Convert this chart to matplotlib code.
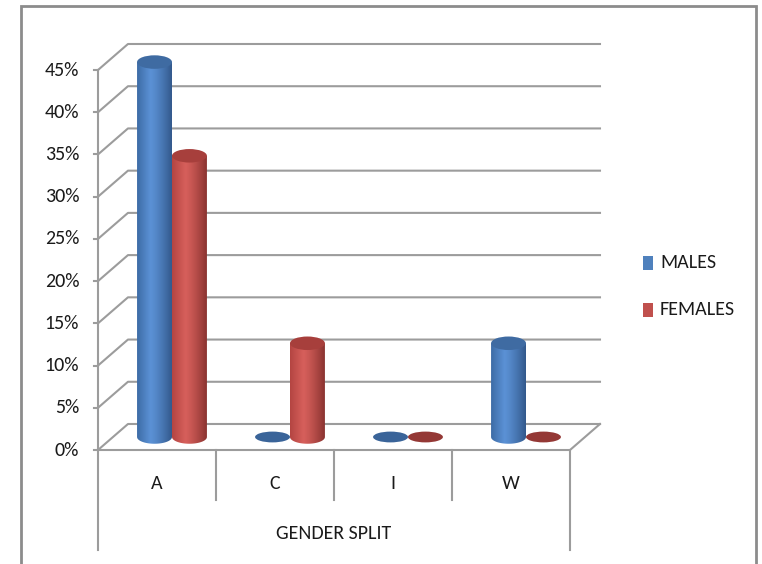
import numpy as np
import matplotlib
matplotlib.use("Agg")
import matplotlib.pyplot as plt
from matplotlib.patches import Ellipse, PathPatch, Rectangle
from matplotlib.path import Path
from matplotlib.colors import to_rgb

# ---- data ----
categories = ["A", "C", "I", "W"]
males = [44.4, 0.0, 0.0, 11.1]
females = [33.3, 11.1, 0.0, 0.0]
y_ticks = [0, 5, 10, 15, 20, 25, 30, 35, 40, 45]
y_tick_labels = [f"{v}%" for v in y_ticks]
series_names = ["MALES", "FEMALES"]
axis_title = "GENDER SPLIT"

FONT = ["Carlito", "DejaVu Sans"]
FS = 14.4
TXT = "#1a1a1a"

# ---- figure: one axes spanning the canvas, x in category units, y in percent ----
fig = plt.figure(figsize=(7.62, 5.64), dpi=100)
ax = fig.add_axes([0, 0, 1, 1])
ax.set_xlim(-0.8305, 5.627)
ax.set_ylim(-13.50, 53.29)
ax.axis("off")

n = len(categories)
DX, DY = 0.254, 3.08          # oblique offset of the back wall
MX, MY = DX / 2, DY / 2        # mid depth where the cylinders stand
W = 0.296                      # cylinder diameter
EH = 1.6                       # ellipse height (percent units)
GRID = "#9c9c9c"
FRAME = "#8c8c8c"

# outer frame
ax.plot([21 / 762, 21 / 762, 755.5 / 762, 755.5 / 762], [0, 1 - 6 / 564, 1 - 6 / 564, 0],
        transform=ax.transAxes, color=FRAME, lw=2.0, solid_joinstyle="miter", zorder=1)

# back-wall gridlines and side-wall diagonals
for v, lab in zip(y_ticks, y_tick_labels):
    ax.plot([0, DX, n + DX], [v, v + DY, v + DY], color=GRID, lw=1.5, zorder=2)
    ax.plot([-0.034, 0], [v, v], color=GRID, lw=1.5, zorder=2)
    ax.text(-0.16, v, lab, ha="right", va="center", fontsize=FS, family=FONT, color=TXT)

# front axis and floor
ax.plot([0, 0], [y_ticks[-1], -11.84], color=GRID, lw=1.5, zorder=2)
ax.plot([0, n, n + DX], [0, 0, DY], color=GRID, lw=1.5, zorder=2)
ax.plot([n, n], [0, -11.84], color=GRID, lw=1.5, zorder=2)
for i in range(1, n):
    ax.plot([i, i], [0, -5.92], color=GRID, lw=1.5, zorder=2)

for i, c in enumerate(categories):
    ax.text(i + 0.5, -3.91, c, ha="center", va="center", fontsize=FS, family=FONT, color=TXT)
ax.text(n / 2, -9.83, axis_title, ha="center", va="center", fontsize=FS, family=FONT, color=TXT)

# cylinder shading: (left edge, highlight, right edge), top cap, flat cap
palette = {
    "MALES": dict(stops=["#3d6ca6", "#5b91d5", "#33598c"], top="#3f6ba2", flat="#3a6499", legend="#4f81bd"),
    "FEMALES": dict(stops=["#b44542", "#d65f5b", "#8a3330"], top="#a73f3c", flat="#943835", legend="#c0504d"),
}


def gradient_image(stops):
    c0, c1, c2 = (np.array(to_rgb(s)) for s in stops)
    t = np.linspace(0, 1, 64)
    img = np.zeros((1, 64, 3))
    for k, tt in enumerate(t):
        if tt < 0.38:
            f = tt / 0.38
            img[0, k] = c0 * (1 - f) + c1 * f
        else:
            f = (tt - 0.38) / 0.62
            img[0, k] = c1 * (1 - f ** 1.3) + c2 * f ** 1.3
    return img


def cylinder(cx, h, style, z):
    base = MY
    x0, x1 = cx - W / 2, cx + W / 2
    if h <= 0:
        ax.add_patch(Ellipse((cx, base), W, EH * 0.8, facecolor=style["flat"], edgecolor="none", zorder=z))
        return
    top = base + h
    th = np.linspace(np.pi, 2 * np.pi, 40)
    arc = np.column_stack([cx + W / 2 * np.cos(th), base + EH / 2 * np.sin(th)])
    verts = np.vstack([[x0, top], arc, [x1, top], [x0, top]])
    codes = [Path.MOVETO] + [Path.LINETO] * (len(verts) - 2) + [Path.CLOSEPOLY]
    body = PathPatch(Path(verts, codes), facecolor="none", edgecolor="none", zorder=z)
    ax.add_patch(body)
    im = ax.imshow(gradient_image(style["stops"]), extent=[x0, x1, base - EH / 2, top],
                   aspect="auto", interpolation="bilinear", zorder=z)
    im.set_clip_path(body)
    ax.add_patch(Ellipse((cx, top), W, EH, facecolor=style["top"], edgecolor="none", zorder=z + 0.1))


z = 5
for i in range(n):
    for j, (name, vals) in enumerate(zip(series_names, [males, females])):
        cx = i + 0.5 + MX + (j - 0.5) * W
        cylinder(cx, vals[i], palette[name], z)
        z += 1

# legend
for k, name in enumerate(series_names):
    ly = [263, 310][k]
    yv = (450 - ly) / 8.444
    ax.add_patch(Rectangle(((643 - 98) / 118, yv - 0.8), 10 / 118, 1.6,
                           facecolor=palette[name]["legend"], edgecolor="none", zorder=3))
    ax.text((660 - 98) / 118, yv, name, ha="left", va="center", fontsize=FS, family=FONT, color=TXT)

fig.savefig("out.png", dpi=100, facecolor="white")
